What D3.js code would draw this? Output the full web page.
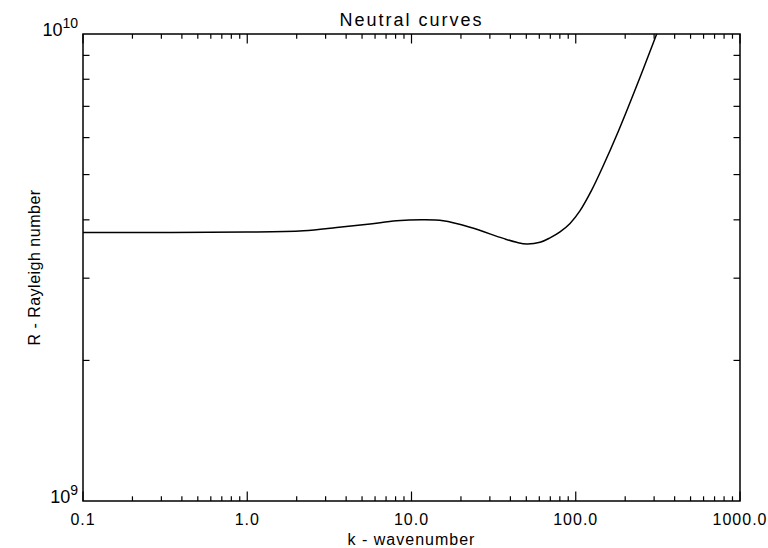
<!DOCTYPE html>
<html>
<head>
<meta charset="utf-8">
<script src="https://cdn.jsdelivr.net/npm/d3@7"></script>
<style>
  html, body { margin: 0; padding: 0; background: #fff; }
  svg { display: block; font-family: "Liberation Sans", Arial, sans-serif; }
</style>
</head>
<body>
<svg id="chart" width="768" height="548"></svg>
<script>
// ---- data ----
const titleText = "Neutral curves";
const xTitle = "k - wavenumber";
const yTitle = "R - Rayleigh number";
const xTickValues = [0.1, 1, 10, 100, 1000];
const xTickLabels = ["0.1", "1.0", "10.0", "100.0", "1000.0"];
const yTickValues = [1e9, 1e10];
const yTickExponents = ["9", "10"];
const kValues = [0.1, 1.0, 2.2, 3.5, 5.6, 8.1, 11.8, 15.6, 22.7,
                 36.2, 43.7, 50.3, 60.6, 69.7, 80.2, 92.3, 106, 125, 144, 182, 246, 311, 340];
const rValues = [3.76e9, 3.765e9, 3.79e9, 3.85e9, 3.92e9, 3.98e9, 4.00e9, 3.98e9, 3.855e9,
                 3.65e9, 3.58e9, 3.55e9, 3.58e9, 3.66e9, 3.77e9, 3.93e9, 4.18e9, 4.63e9, 5.14e9, 6.20e9, 8.07e9, 1.0e10, 1.087e10];

(function () {
const svg = d3.select("#chart");
const mL = 83, mR = 740, mT = 34, mB = 501;

const x = d3.scaleLog().domain([0.1, 1000]).range([mL, mR]);
const y = d3.scaleLog().domain([1e9, 1e10]).range([mB, mT]);

const xMajorLen = 9.5, xMinorLen = 4.7, yMinorLen = 6.5;

const xMinor = [];
for (let d = 0.1; d < 1000; d *= 10) for (let m = 2; m <= 9; m++) xMinor.push(+(d * m).toPrecision(3));
const yMinor = [];
for (let m = 2; m <= 9; m++) yMinor.push(m * 1e9);

const g = svg.append("g");

g.append("rect").attr("x", mL).attr("y", mT).attr("width", mR - mL).attr("height", mB - mT)
  .attr("fill", "none").attr("stroke", "#000").attr("stroke-width", 1.5);

const xt = g.append("g").attr("stroke", "#000").attr("stroke-width", 1.2);
xTickValues.forEach(v => {
  xt.append("line").attr("x1", x(v)).attr("x2", x(v)).attr("y1", mB).attr("y2", mB - xMajorLen);
  xt.append("line").attr("x1", x(v)).attr("x2", x(v)).attr("y1", mT).attr("y2", mT + xMajorLen);
});
xMinor.forEach(v => {
  xt.append("line").attr("x1", x(v)).attr("x2", x(v)).attr("y1", mB).attr("y2", mB - xMinorLen);
  xt.append("line").attr("x1", x(v)).attr("x2", x(v)).attr("y1", mT).attr("y2", mT + xMinorLen);
});
yMinor.forEach(v => {
  xt.append("line").attr("x1", mL).attr("x2", mL + yMinorLen).attr("y1", y(v)).attr("y2", y(v));
  xt.append("line").attr("x1", mR).attr("x2", mR - yMinorLen).attr("y1", y(v)).attr("y2", y(v));
});

g.append("g").selectAll("text").data(xTickValues).join("text")
  .attr("x", d => x(d)).attr("y", 525)
  .attr("text-anchor", "middle").attr("font-size", 16).attr("letter-spacing", 1)
  .text((d, i) => xTickLabels[i]);

const yl = g.append("g").selectAll("text").data(yTickValues).join("text")
  .attr("x", mL - 5).attr("y", d => y(d) + 2)
  .attr("text-anchor", "end").attr("font-size", 18);
yl.append("tspan").text("10");
yl.append("tspan").attr("font-size", 14).attr("dy", -8).text((d, i) => yTickExponents[i]);

svg.append("text").attr("x", (mL + mR) / 2).attr("y", 26)
  .attr("text-anchor", "middle").attr("font-size", 18).attr("letter-spacing", 2)
  .text(titleText);

svg.append("text").attr("x", (mL + mR) / 2).attr("y", 545)
  .attr("text-anchor", "middle").attr("font-size", 16).attr("letter-spacing", 1)
  .text(xTitle);
svg.append("text").attr("transform", `translate(40,${(mT + mB) / 2}) rotate(-90)`)
  .attr("text-anchor", "middle").attr("font-size", 16).attr("letter-spacing", 0.5)
  .text(yTitle);

svg.append("clipPath").attr("id", "clip").append("rect")
  .attr("x", mL).attr("y", mT).attr("width", mR - mL).attr("height", mB - mT);
const pts = kValues.map((k, i) => [k, rValues[i]]);
const line = d3.line().x(d => x(d[0])).y(d => y(d[1])).curve(d3.curveCatmullRom.alpha(0.5));
svg.append("path").attr("clip-path", "url(#clip)").attr("d", line(pts))
  .attr("fill", "none").attr("stroke", "#000").attr("stroke-width", 1.5);
})();
</script>
</body>
</html>
